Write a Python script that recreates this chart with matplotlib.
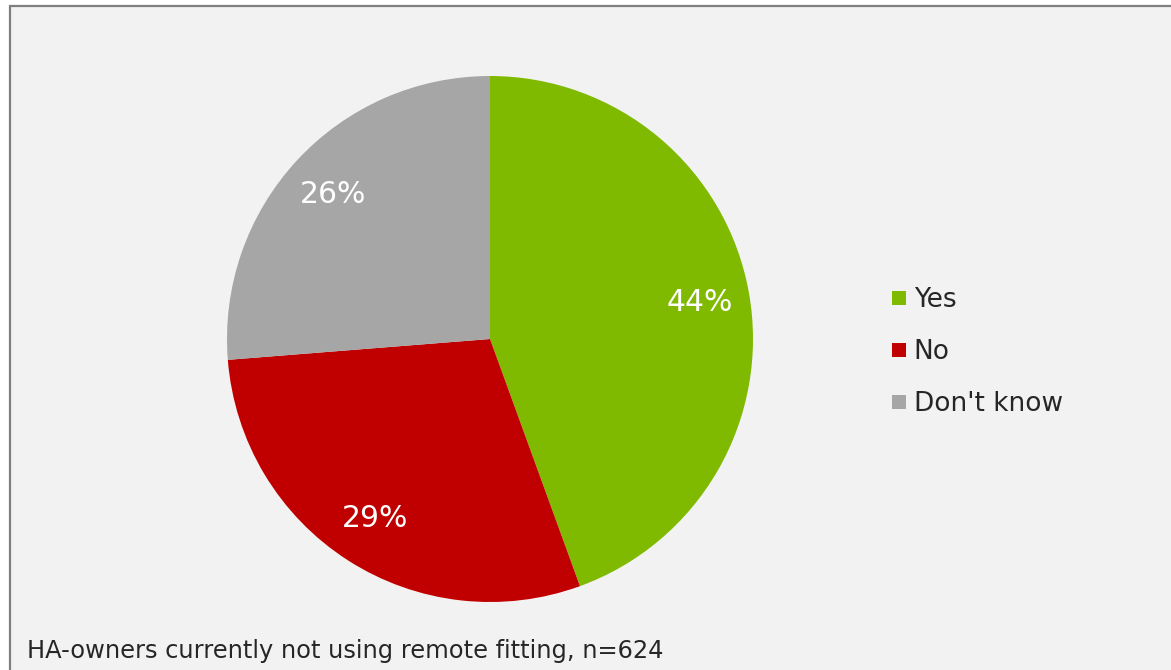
import matplotlib
matplotlib.use("Agg")
import matplotlib.pyplot as plt
from matplotlib.patches import Rectangle
from matplotlib.lines import Line2D

# Survey answers
categories = ["Yes", "No", "Don't know"]
shares = [44, 29, 26]
colors = ["#7FBA00", "#C00000", "#A6A6A6"]
caption = "HA-owners currently not using remote fitting, n=624"

W, H = 1171, 670
fig = plt.figure(figsize=(W / 100, H / 100), dpi=100, facecolor="white")

# Light panel with a grey frame, kept behind the axes
panel = Rectangle((9.5 / W, -0.1), 1.2, 1 - 5.5 / H + 0.1, transform=fig.transFigure,
                  facecolor="#F2F2F2", edgecolor="#7F7F7F", linewidth=1.6, zorder=-5)
fig.patches.append(panel)

cx, cy, r = 490, 339, 263
ax = fig.add_axes([(cx - r) / W, (H - cy - r) / H, 2 * r / W, 2 * r / H])
ax.set_zorder(1)
ax.set_facecolor("none")
wedges, _, autotexts = ax.pie(
    shares, colors=colors, startangle=90, counterclock=False,
    autopct=lambda p: f"{p:.0f}%", pctdistance=0.81,
    wedgeprops=dict(linewidth=0),
    textprops=dict(color="white", fontsize=21.5, family="DejaVu Sans"),
)
# Percent labels show the survey values
for t, v in zip(autotexts, shares):
    t.set_text(f"{v}%")
ax.set_xlim(-1, 1)
ax.set_ylim(-1, 1)
ax.axis("off")

handles = [Line2D([], [], marker="s", linestyle="none", markersize=10.5,
                  markerfacecolor=c, markeredgewidth=0) for c in colors]
leg = fig.legend(handles, categories, loc="center left",
                 bbox_to_anchor=(878 / W, 1 - 352 / H), frameon=False,
                 fontsize=19, labelcolor="#262626", handlelength=0.6,
                 handletextpad=0.25, labelspacing=0.98, borderpad=0)
leg.set_zorder(2)

fig.text(27 / W, 1 - 651 / H, caption, fontsize=17.4, color="#262626",
         va="center", ha="left", family="DejaVu Sans", zorder=2)

fig.savefig("out.png", dpi=100, facecolor="white")
